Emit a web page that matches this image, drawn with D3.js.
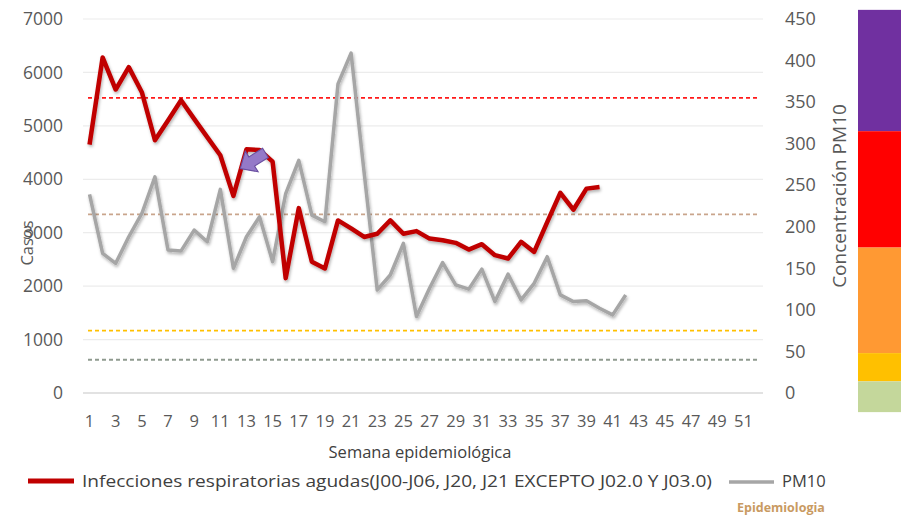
<!DOCTYPE html>
<html lang="es">
<head>
<meta charset="UTF-8">
<script src="https://d3js.org/d3.v7.min.js"></script>
<style>
  body { margin: 0; background: #fff; }
  svg { display: block; font-family: "Open Sans", sans-serif; }
</style>
</head>
<body>
<div id="chart"></div>
<script>
// semanas epidemiologicas (eje de categorias)
const weeks = d3.range(1, 53);
const weekLabels = weeks.filter(w => w % 2 === 1);

// casos de IRA por semana (eje izquierdo)
const casos = [4650, 6280, 5680, 6100, 5630, 4730, 5100, 5480, 5130, 4790,
  4450, 3690, 4560, 4550, 4330, 2150, 3460, 2455, 2330, 3230,
  3080, 2920, 2980, 3230, 2980, 3030, 2890, 2860, 2810, 2685,
  2785, 2580, 2517, 2830, 2640, 3200, 3745, 3430, 3825, 3855];

// concentracion PM10 (eje derecho)
const pm10 = [239, 168, 156, 188, 216, 260, 172, 171, 196, 182,
  245, 150, 188, 212, 158, 240, 280, 214, 206, 372,
  409, 265, 124, 142, 180, 92, 126, 157, 130, 125,
  149, 110, 143, 112, 132, 164, 118, 110, 111, 102,
  94, 118];

const leftTicks = [0, 1000, 2000, 3000, 4000, 5000, 6000, 7000];
const rightTicks = [0, 50, 100, 150, 200, 250, 300, 350, 400, 450];

// limites IMECA (eje derecho)
const limits = [355, 215, 75, 40];
const limitColors = ["#ff1a1a", "#c9a58c", "#ffc000", "#8f9a8f"];

// barra de colores de la derecha (bordes en unidades del eje derecho)
const bandEdges = [461, 315, 175, 48, 14, -23];
const bandColors = ["#7030a0", "#ff0000", "#ff9933", "#ffc000", "#c4d79b"];

const legendLabels = ["Infecciones respiratorias agudas(J00-J06, J20, J21 EXCEPTO J02.0 Y J03.0)", "PM10"];

const w = 901, h = 515;
const margin = { top: 19, right: 138, bottom: 122, left: 83 };

const svg = d3.select("#chart").append("svg")
  .attr("width", w)
  .attr("height", h);

const defs = svg.append("defs");
const shadow = defs.append("filter").attr("id", "shadow")
  .attr("x", "-5%").attr("y", "-5%").attr("width", "110%").attr("height", "120%");
shadow.append("feDropShadow")
  .attr("dx", 1).attr("dy", 2).attr("stdDeviation", 1.5)
  .attr("flood-color", "#000").attr("flood-opacity", 0.3);

const x = d3.scaleBand()
  .domain(weeks)
  .range([margin.left, w - margin.right]);
const xc = d => x(d) + x.bandwidth() / 2;

const yL = d3.scaleLinear().domain([0, 7000]).range([h - margin.bottom, margin.top]);
const yR = d3.scaleLinear().domain([0, 450]).range([h - margin.bottom, margin.top]);

// colour strip on the far right
svg.append("g")
  .selectAll("rect")
  .data(bandColors)
  .enter()
  .append("rect")
  .attr("x", 858)
  .attr("width", 43)
  .attr("y", (d, i) => yR(bandEdges[i]))
  .attr("height", (d, i) => yR(bandEdges[i + 1]) - yR(bandEdges[i]))
  .attr("fill", d => d);

// gridlines
svg.append("g")
  .selectAll("line")
  .data(leftTicks)
  .enter()
  .append("line")
  .attr("x1", margin.left)
  .attr("x2", w - margin.right)
  .attr("y1", d => yL(d))
  .attr("y2", d => yL(d))
  .attr("stroke", d => d === 0 ? "#d9d9d9" : "#ececec")
  .attr("stroke-width", d => d === 0 ? 1.5 : 1.2);

// left axis
const axL = svg.append("g")
  .attr("transform", "translate(" + (margin.left - 20) + ",0)")
  .call(d3.axisLeft(yL).tickValues(leftTicks).tickFormat(d3.format("d")).tickSize(0).tickPadding(0));
axL.select(".domain").remove();
axL.selectAll("text").attr("font-size", 17.5).attr("fill", "#595959")
  .attr("font-family", "Open Sans, sans-serif");

// right axis
const axR = svg.append("g")
  .attr("transform", "translate(" + (w - margin.right + 22) + ",0)")
  .call(d3.axisRight(yR).tickValues(rightTicks).tickFormat(d3.format("d")).tickSize(0).tickPadding(0));
axR.select(".domain").remove();
axR.selectAll("text").attr("font-size", 18).attr("fill", "#595959")
  .attr("font-family", "Open Sans, sans-serif");

// bottom axis
const axB = svg.append("g")
  .attr("transform", "translate(0," + (h - margin.bottom + 14) + ")")
  .call(d3.axisBottom(x).tickValues(weekLabels).tickSize(0).tickPadding(8));
axB.select(".domain").remove();
axB.selectAll("text").attr("font-size", 16.5).attr("fill", "#595959")
  .attr("font-family", "Open Sans, sans-serif");

// limit lines
svg.append("g")
  .selectAll("line")
  .data(limits)
  .enter()
  .append("line")
  .attr("x1", margin.left + 5)
  .attr("x2", w - margin.right - 3)
  .attr("y1", d => yR(d))
  .attr("y2", d => yR(d))
  .attr("stroke", (d, i) => limitColors[i])
  .attr("stroke-width", 1.8)
  .attr("stroke-dasharray", "4,3");

// PM10 line
const linePm = d3.line()
  .x((d, i) => xc(weeks[i]))
  .y(d => yR(d));
svg.append("path")
  .datum(pm10)
  .attr("d", linePm)
  .attr("fill", "none")
  .attr("stroke", "#a6a6a6")
  .attr("stroke-width", 3.5)
  .attr("stroke-linejoin", "round")
  .attr("filter", "url(#shadow)");

// casos line
const lineCasos = d3.line()
  .x((d, i) => xc(weeks[i]))
  .y(d => yL(d));
svg.append("path")
  .datum(casos)
  .attr("d", lineCasos)
  .attr("fill", "none")
  .attr("stroke", "#c00000")
  .attr("stroke-width", 4.5)
  .attr("stroke-linejoin", "round")
  .attr("filter", "url(#shadow)");

// purple arrow pointing at the week 13 peak
const ax = xc(13) + x.step() / 2 + 1, ay = yL(4360);
svg.append("path")
  .attr("d", "M-12,0 L-2,-9 L-2,-4 L10,-4 L10,4 L-2,4 L-2,9 Z")
  .attr("transform", "translate(" + ax + "," + ay + ") rotate(-32) scale(1.35)")
  .attr("fill", "#9479c8")
  .attr("stroke", "#6a4fa0")
  .attr("stroke-width", 0.8);

// axis titles
svg.append("text")
  .attr("transform", "translate(33," + 243 + ") rotate(-90)")
  .attr("text-anchor", "middle")
  .attr("font-size", 16.5)
  .attr("fill", "#595959")
  .text("Casos");

svg.append("text")
  .attr("transform", "translate(846," + 196 + ") rotate(-90)")
  .attr("text-anchor", "middle")
  .attr("font-size", 19)
  .attr("fill", "#595959")
  .text("Concentración PM10");

svg.append("text")
  .attr("x", 420)
  .attr("y", 458)
  .attr("text-anchor", "middle")
  .attr("font-size", 16.5)
  .attr("fill", "#404040")
  .text("Semana epidemiológica");

// legend
const legend = svg.append("g");
legend.append("line")
  .attr("x1", 28).attr("x2", 74).attr("y1", 481).attr("y2", 481)
  .attr("stroke", "#c00000").attr("stroke-width", 5);
legend.append("text")
  .attr("x", 82).attr("y", 487)
  .attr("font-size", 16.5).attr("fill", "#404040")
  .attr("textLength", 630).attr("lengthAdjust", "spacingAndGlyphs")
  .text(legendLabels[0]);
legend.append("line")
  .attr("x1", 729).attr("x2", 774).attr("y1", 482).attr("y2", 482)
  .attr("stroke", "#a6a6a6").attr("stroke-width", 3.5);
legend.append("text")
  .attr("x", 782).attr("y", 487)
  .attr("font-size", 16.5).attr("fill", "#404040")
  .text(legendLabels[1]);

svg.append("text")
  .attr("x", 737).attr("y", 512)
  .attr("font-size", 12.5)
  .attr("font-weight", "bold")
  .attr("fill", "#c99a62")
  .text("Epidemiologia");
</script>
</body>
</html>
